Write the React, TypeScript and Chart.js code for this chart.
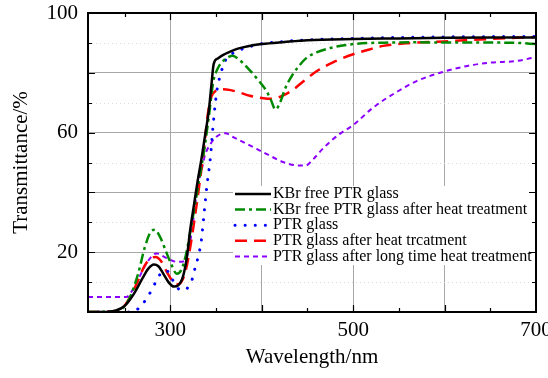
import React, { useEffect, useRef } from 'react';
import { Chart, registerables } from 'chart.js';
Chart.register(...registerables);

// ---- Data (wavelength nm / transmittance %) ----
const kbrFreeX = [210, 230, 240, 250, 260, 270, 276, 282, 287, 292, 298, 304, 309, 314, 318, 322, 326, 330, 334, 338, 342, 345, 347.5, 352, 358, 365, 373, 385, 400, 425, 450, 500, 550, 600, 650, 700];
const kbrFreeY = [0, 0, 0.4, 2, 6, 11.5, 14.5, 15.9, 15.3, 13, 10, 8.5, 9, 12, 18, 28, 36, 44, 51, 59, 67, 76, 83, 84.8, 86, 87, 88, 88.9, 89.6, 90.3, 90.9, 91.3, 91.5, 91.7, 91.8, 91.8];

const kbrHeatX = [210, 240, 248, 256, 265, 272, 278, 283, 289, 295, 301, 307, 312, 317, 322, 327, 332, 337, 342, 347, 352, 358, 364, 368, 375, 385, 395, 405, 410, 415, 420, 426, 433, 440, 449, 460, 475, 490, 500, 520, 540, 570, 600, 650, 680, 700];
const kbrHeatY = [0, 0.3, 1.3, 5, 13, 21.5, 26.5, 27.5, 25, 20.5, 16, 12.8, 14, 19, 27, 36, 45, 54, 65, 77, 81.5, 84, 85.3, 85.7, 84.5, 81.5, 78, 74, 71, 67.7, 70, 75, 79, 82, 85, 86.8, 88.3, 89.2, 89.6, 90, 90.1, 90.2, 90.1, 90.1, 90, 89.6];

const ptrX = [210, 255, 262, 268, 274, 279, 284, 290, 296, 302, 308, 315, 320, 324, 327, 331, 334, 337, 340, 344, 347, 351, 355, 360, 367, 375, 390, 400, 425, 450, 500, 550, 600, 650, 700];
const ptrY = [0, 0, 0.5, 2, 4.5, 7, 10, 13, 13.8, 11, 8, 7.3, 8.5, 11, 14.6, 19, 24, 33, 42, 52, 63, 74, 79.5, 84, 86.2, 87.5, 89, 89.7, 90.5, 91, 91.5, 91.8, 92, 92.1, 92.1];

const ptrHeatX = [210, 240, 248, 256, 264, 272, 278, 284, 290, 296, 302, 307, 312, 317, 322, 327, 332, 337, 341, 345, 350, 358, 366, 375, 387, 400, 412, 424, 435, 445, 460, 478, 500, 520, 533, 560, 600, 650, 700];
const ptrHeatY = [0, 0.3, 1.5, 5, 10, 15.5, 17.8, 18.4, 17, 13.5, 10.5, 9.2, 10, 14, 22, 32, 43, 55, 66, 72, 74, 74.5, 74.2, 73.5, 72.3, 71.6, 71.3, 72.5, 74.5, 77, 80.5, 83.5, 86.2, 88, 89, 89.9, 90.5, 91.3, 92];

const ptrLongX = [210, 252, 258, 265, 275, 285, 296, 307, 315, 320, 324, 329, 335, 338, 344, 350, 360, 370, 387, 405, 424, 440, 448, 456, 468, 485, 500, 522, 550, 570, 595, 625, 650, 680, 700];
const ptrLongY = [5, 5, 7, 11, 16.8, 19.6, 18, 16.8, 17, 20.7, 28, 40, 48.5, 52.5, 56.2, 58.5, 59.8, 58.3, 55.7, 52.9, 50.1, 49, 49, 51, 55, 59.5, 62.5, 68.4, 74, 77.3, 80, 82.3, 83.4, 84, 85.3];

const seriesLabels = [
  'KBr free PTR glass',
  'KBr free PTR glass after heat treatment',
  'PTR glass',
  'PTR glass after heat trcatment',
  'PTR glass after long time heat treatment',
];

const xTickValues = [300, 400, 500, 600, 700];
const xLabelValues = [300, 500, 700];
const yLabelValues = [20, 60, 100];
const xTitle = 'Wavelength/nm';
const yTitle = 'Transmittance/%';

const FONT = "'Liberation Serif', 'Times New Roman', serif";

function pts(xs: number[], ys: number[]) {
  return xs.map((x, i) => ({ x, y: ys[i] }));
}

const framePlugin = {
  id: 'framePlugin',
  beforeDatasetsDraw(chart: any) {
    const { ctx, chartArea: a, scales } = chart;
    const ys = scales.y;
    ctx.save();
    ctx.strokeStyle = '#dadada';
    ctx.lineWidth = 1;
    ctx.setLineDash([1, 3]);
    for (let v = 10; v < 100; v += 20) {
      const py = Math.round(ys.getPixelForValue(v)) + 0.5;
      ctx.beginPath();
      ctx.moveTo(a.left, py);
      ctx.lineTo(a.right, py);
      ctx.stroke();
    }
    ctx.restore();
  },
  afterDatasetsDraw(chart: any) {
    const { ctx, chartArea: a, scales } = chart;
    const xs = scales.x;
    const ys = scales.y;
    // legend
    ctx.save();
    const lx = a.left + 145;
    const ly = 186;
    ctx.fillStyle = '#ffffff';
    ctx.fillRect(lx, ly, a.right - lx, 79);
    ctx.font = `16px ${FONT}`;
    ctx.textBaseline = 'middle';
    ctx.textAlign = 'left';
    chart.data.datasets.forEach((ds: any, i: number) => {
      const y = 194 + i * 15.6;
      ctx.beginPath();
      ctx.strokeStyle = ds.borderColor;
      ctx.lineWidth = ds.borderWidth;
      ctx.lineCap = ds.borderCapStyle || 'butt';
      ctx.setLineDash(ds.borderDash || []);
      ctx.moveTo(lx + 2, y);
      ctx.lineTo(lx + 38, y);
      ctx.stroke();
      ctx.setLineDash([]);
      ctx.fillStyle = '#000000';
      ctx.fillText(ds.label, lx + 40, y);
    });
    ctx.restore();

    // frame
    ctx.save();
    ctx.strokeStyle = '#000';
    ctx.lineWidth = 2;
    ctx.setLineDash([]);
    ctx.strokeRect(a.left, a.top, a.right - a.left, a.bottom - a.top);
    ctx.lineWidth = 1.2;
    for (let v = 250; v < 700; v += 50) {
      const px = Math.round(xs.getPixelForValue(v)) + 0.5;
      const len = v % 100 === 0 ? 7 : 4;
      ctx.beginPath();
      ctx.moveTo(px, a.bottom);
      ctx.lineTo(px, a.bottom - len);
      ctx.moveTo(px, a.top);
      ctx.lineTo(px, a.top + len);
      ctx.stroke();
    }
    for (let v = 10; v < 100; v += 10) {
      const py = Math.round(ys.getPixelForValue(v)) + 0.5;
      const len = v % 20 === 0 ? 7 : 4;
      ctx.beginPath();
      ctx.moveTo(a.left, py);
      ctx.lineTo(a.left + len, py);
      ctx.moveTo(a.right, py);
      ctx.lineTo(a.right - len, py);
      ctx.stroke();
    }
    ctx.restore();
  },
};

export default function App() {
  const ref = useRef<HTMLCanvasElement | null>(null);
  useEffect(() => {
    const canvas = ref.current;
    if (!canvas) return;
    const chart = new Chart(canvas, {
      type: 'line',
      data: {
        datasets: [
          {
            label: seriesLabels[0],
            data: pts(kbrFreeX, kbrFreeY),
            borderColor: '#000000',
            borderWidth: 2.5,
          },
          {
            label: seriesLabels[1],
            data: pts(kbrHeatX, kbrHeatY),
            borderColor: '#008a00',
            borderWidth: 2.5,
            borderDash: [10, 4, 3, 4],
          },
          {
            label: seriesLabels[2],
            data: pts(ptrX, ptrY),
            borderColor: '#0000ff',
            borderWidth: 3,
            borderDash: [0.1, 10],
            borderCapStyle: 'round',
          },
          {
            label: seriesLabels[3],
            data: pts(ptrHeatX, ptrHeatY),
            borderColor: '#ff0000',
            borderWidth: 2.5,
            borderDash: [12, 7],
          },
          {
            label: seriesLabels[4],
            data: pts(ptrLongX, ptrLongY),
            borderColor: '#8c00ff',
            borderWidth: 2,
            borderDash: [5, 4],
          },
        ] as any,
      },
      options: {
        responsive: false,
        animation: false,
        parsing: true,
        elements: {
          point: { radius: 0 },
          line: { cubicInterpolationMode: 'monotone', fill: false },
        },
        layout: { padding: { left: 0, top: 13, right: 12, bottom: 0 } },
        plugins: { legend: { display: false }, tooltip: { enabled: false } },
        scales: {
          x: {
            type: 'linear',
            min: 210,
            max: 700,
            afterBuildTicks: (axis: any) => {
              axis.ticks = xTickValues.map((v) => ({ value: v }));
            },
            afterFit: (axis: any) => {
              axis.height = 66;
              axis.paddingLeft = 0;
              axis.paddingRight = 0;
            },
            grid: {
              drawTicks: false,
              color: (c: any) => (c.tick && c.tick.value >= 700 ? 'rgba(0,0,0,0)' : '#a8a8a8'),
              lineWidth: 1,
            },
            border: { display: false },
            ticks: {
              autoSkip: false,
              maxRotation: 0,
              padding: 6,
              color: '#000',
              font: { family: FONT, size: 21 },
              callback: (v: any) => (xLabelValues.includes(Number(v)) ? String(v) : ''),
            },
            title: {
              display: true,
              text: xTitle,
              color: '#000',
              font: { family: FONT, size: 21 },
              padding: { top: 0, bottom: 8 },
            },
          },
          y: {
            type: 'linear',
            min: 0,
            max: 100,
            afterFit: (axis: any) => {
              axis.width = 88;
              axis.paddingTop = 0;
              axis.paddingBottom = 0;
            },
            grid: {
              drawTicks: false,
              color: (c: any) =>
                c.tick && (c.tick.value <= 0 || c.tick.value >= 100) ? 'rgba(0,0,0,0)' : '#a8a8a8',
              lineWidth: 1,
            },
            border: { display: false },
            ticks: {
              stepSize: 20,
              padding: 10,
              color: '#000',
              font: { family: FONT, size: 21 },
              callback: (v: any) => (yLabelValues.includes(Number(v)) ? String(v) : ''),
            },
            title: {
              display: true,
              text: yTitle,
              color: '#000',
              font: { family: FONT, size: 21 },
              padding: { top: 9, bottom: 0 },
            },
          },
        },
      },
      plugins: [framePlugin],
    } as any);
    return () => chart.destroy();
  }, []);
  return (
    <div style={{ position: 'fixed', left: 0, top: 0, width: 548, height: 378, background: '#fff' }}>
      <canvas ref={ref} width={548} height={378} style={{ width: 548, height: 378, display: 'block' }} />
    </div>
  );
}
